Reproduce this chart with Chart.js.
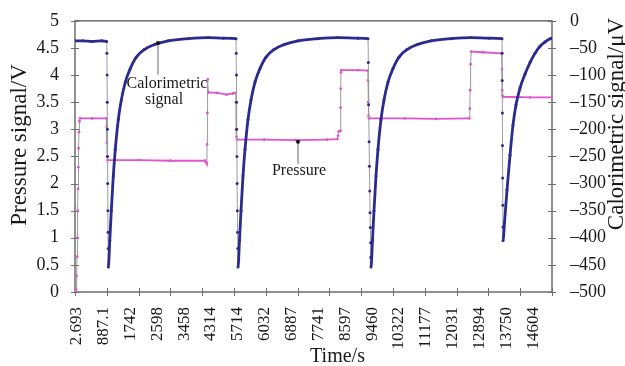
<!DOCTYPE html>
<html>
<head>
<meta charset="utf-8">
<script src="https://cdn.jsdelivr.net/npm/chart.js@4.4.1/dist/chart.umd.min.js"></script>
<style>
  html, body { margin: 0; padding: 0; background: #ffffff; }
  #wrap { width: 625px; height: 366px; }
</style>
</head>
<body>
<div id="wrap"><canvas id="c" width="625" height="366"></canvas></div>
<script>
// ---------- data ----------
const xTickLabels = ['2.693','887.1','1742','2598','3458','4314','5714','6032','6887','7741','8597','9460','10322','11177','12031','12894','13750','14604'];
const leftTickLabels = ['0','0.5','1','1.5','2','2.5','3','3.5','4','4.5','5'];
const rightTickLabels = ['0','\u201350','\u2013100','\u2013150','\u2013200','\u2013250','\u2013300','\u2013350','\u2013400','\u2013450','\u2013500'];

// Calorimetric signal (µV), right axis
const calTime = [-52,200,500,800,962,968,975,980,985,990,995,1000,1005,1009,1013,
  1061,1109,1173,1237,1333,1429,1557,1717,1908,2164,2484,2932,3571,4211,4700,
  5097,5103,5110,5115,5120,5127,5133,5140,5148,5155,5161,
  5209,5257,5321,5385,5481,5577,5705,5865,6056,6312,6632,7080,7719,8359,9000,
  9319,9329,9339,9354,9364,9374,9384,9394,9402,9409,9414,
  9462,9510,9574,9638,9734,9830,9958,10118,10309,10565,10885,11333,11972,12612,13200,
  13604,13608,13612,13616,13620,13625,13630,13634,13636,
  13684,13764,13860,13956,14052,14180,14340,14500,14660,14820,14980,15140,15203];
const calValue = [-37,-37,-38,-37,-38,-60,-100,-150,-200,-250,-300,-350,-390,-420,-454,
  -405,-350,-286,-237,-182,-146,-113,-88,-67,-53,-44,-37,-33,-31,-32,
  -33,-60,-100,-150,-200,-250,-300,-350,-390,-420,-454,
  -405,-350,-286,-237,-182,-146,-113,-88,-67,-53,-44,-37,-33,-31,-32,
  -33,-77,-155,-223,-268,-314,-354,-381,-409,-436,-454,
  -405,-350,-286,-237,-182,-146,-113,-88,-67,-53,-44,-37,-33,-31,-32,
  -33,-60,-110,-170,-230,-290,-340,-380,-405,
  -372,-312,-248,-192,-155,-124,-98,-77,-60,-47,-39,-33,-32];

// Pressure signal (V), left axis
const presTime = [-52,-20,0,12,25,35,44,55,66,76,90,108,500,955,
  962,968,975,990,2000,3000,4100,4150,4165,
  4172,4180,4195,4215,4500,4800,5000,5090,
  5097,5105,5112,5130,6000,7000,8000,8340,
  8360,8380,8435,
  8442,8448,8455,8470,9000,9312,
  9319,9325,9335,9350,10500,11500,12560,
  12575,12585,12600,12620,13000,13590,
  13604,13610,13620,13640,14500,15203];
const presValue = [0.02,0.05,0.3,0.65,1.0,1.5,1.9,2.3,2.65,2.95,3.15,3.2,3.2,3.2,
  3.05,2.75,2.5,2.43,2.43,2.42,2.42,2.39,2.37,
  2.72,3.3,3.92,3.68,3.67,3.64,3.66,3.67,
  3.5,2.99,2.86,2.81,2.81,2.8,2.81,2.82,
  2.88,2.96,2.97,
  3.4,3.75,4.05,4.09,4.09,4.08,
  3.9,3.5,3.25,3.2,3.2,3.19,3.2,
  3.38,3.72,4.2,4.43,4.42,4.4,
  4.11,3.72,3.62,3.6,3.59,3.59];

// ---------- styling ----------
const SERIF = "'Liberation Serif', 'Times New Roman', serif";
const BLUE = '#2c2a8e';
const PINK = '#e055cc';
const GRAY = '#9a9a9a';
const AXIS = '#6e6e6e';
const X_MIN = -52, X_MAX = 15203;

const calData = calTime.map((t, i) => ({ x: t, y: calValue[i] }));
const presData = presTime.map((t, i) => ({ x: t, y: presValue[i] }));

const xFirst = parseFloat(xTickLabels[0]);
const xLast = parseFloat(xTickLabels[xTickLabels.length - 1]);

function steepAny(ctx) {
  const dx = Math.abs(ctx.p1.x - ctx.p0.x), dy = Math.abs(ctx.p1.y - ctx.p0.y);
  return dy > 2 && dy > 4 * dx;
}
function steepDown(ctx) {
  const dx = Math.abs(ctx.p1.x - ctx.p0.x), dy = ctx.p1.y - ctx.p0.y;
  return dy > 2 && dy > 4 * dx;
}

const decor = {
  id: 'decor',
  beforeDatasetsDraw(chart) {
    const { ctx, chartArea: a, scales } = chart;
    ctx.save();
    ctx.strokeStyle = AXIS;
    ctx.lineWidth = 1.5;
    ctx.strokeRect(a.left, a.top, a.right - a.left, a.bottom - a.top);
    ctx.lineWidth = 1;
    ctx.beginPath();
    scales.y.ticks.forEach(t => {
      const py = Math.round(scales.y.getPixelForValue(t.value)) + 0.5;
      ctx.moveTo(a.left - 4, py); ctx.lineTo(a.left + 4, py);
    });
    scales.y2.ticks.forEach(t => {
      const py = Math.round(scales.y2.getPixelForValue(t.value)) + 0.5;
      ctx.moveTo(a.right - 4, py); ctx.lineTo(a.right + 4, py);
    });
    const nx = 15;
    for (let k = 0; k <= nx; k++) {
      const v = X_MIN + k * (X_MAX - X_MIN) / nx;
      const px = Math.round(scales.x.getPixelForValue(v)) + 0.5;
      ctx.moveTo(px, a.bottom - 4); ctx.lineTo(px, a.bottom + 4);
    }
    ctx.stroke();
    ctx.restore();
  },
  afterDatasetsDraw(chart) {
    const { ctx, scales } = chart;
    const x = scales.x, y = scales.y, y2 = scales.y2;
    ctx.save();
    // Calorimetric pointer
    const cx = x.getPixelForValue(2603);
    ctx.strokeStyle = GRAY; ctx.lineWidth = 1.5;
    ctx.beginPath();
    ctx.moveTo(cx, y2.getPixelForValue(-41)); ctx.lineTo(cx, y2.getPixelForValue(-99));
    // Pressure pointer
    const pxp = x.getPixelForValue(7080);
    ctx.moveTo(pxp, y.getPixelForValue(2.77)); ctx.lineTo(pxp, y.getPixelForValue(2.36));
    ctx.stroke();
    ctx.fillStyle = '#111';
    ctx.beginPath(); ctx.arc(cx, y2.getPixelForValue(-41), 2, 0, Math.PI * 2); ctx.fill();
    ctx.beginPath(); ctx.arc(pxp, y.getPixelForValue(2.77), 2, 0, Math.PI * 2); ctx.fill();
    ctx.font = '16px ' + SERIF;
    ctx.fillStyle = '#1a1a1a';
    ctx.textAlign = 'center'; ctx.textBaseline = 'middle';
    ctx.fillText('Calorimetric', cx + 9, y2.getPixelForValue(-117));
    ctx.fillText('signal', cx + 6, y2.getPixelForValue(-146));
    ctx.fillText('Pressure', pxp + 1, y.getPixelForValue(2.23));
    ctx.restore();
  },
  afterDraw(chart) {
    const { ctx, chartArea: a } = chart;
    ctx.save();
    ctx.fillStyle = '#1a1a1a';
    ctx.textAlign = 'center'; ctx.textBaseline = 'middle';
    ctx.font = '20px ' + SERIF;
    ctx.fillText('Time/s', (a.left + a.right) / 2 + 24, 357);
    ctx.font = '23px ' + SERIF;
    ctx.save(); ctx.translate(20, 145); ctx.rotate(-Math.PI / 2);
    ctx.fillText('Pressure signal/V', 0, 0); ctx.restore();
    ctx.save(); ctx.translate(617, 124); ctx.rotate(-Math.PI / 2);
    ctx.fillText('Calorimetric signal/\u03bcV', 0, 0); ctx.restore();
    ctx.restore();
  }
};

Chart.defaults.font.family = SERIF;
Chart.defaults.color = '#1a1a1a';

new Chart(document.getElementById('c'), {
  type: 'line',
  data: {
    datasets: [
      {
        label: 'Calorimetric signal',
        data: calData,
        yAxisID: 'y2',
        borderColor: BLUE,
        backgroundColor: BLUE,
        borderWidth: 2.8,
        pointRadius: 1.5,
        pointBorderWidth: 0,
        pointBackgroundColor: BLUE,
        cubicInterpolationMode: 'monotone',
        segment: {
          borderColor: ctx => steepDown(ctx) ? GRAY : undefined,
          borderWidth: ctx => steepDown(ctx) ? 1 : undefined
        }
      },
      {
        label: 'Pressure',
        data: presData,
        yAxisID: 'y',
        borderColor: PINK,
        backgroundColor: PINK,
        borderWidth: 1.8,
        pointRadius: 1.4,
        pointBorderWidth: 0,
        pointBackgroundColor: PINK,
        tension: 0,
        segment: {
          borderColor: ctx => steepAny(ctx) ? GRAY : undefined,
          borderWidth: ctx => steepAny(ctx) ? 1 : undefined
        }
      }
    ]
  },
  options: {
    responsive: false,
    animation: false,
    layout: { padding: { top: 18, left: 0, right: 0, bottom: 0 } },
    plugins: { legend: { display: false }, tooltip: { enabled: false } },
    scales: {
      x: {
        type: 'linear',
        position: 'bottom',
        min: X_MIN, max: X_MAX,
        grid: { display: false },
        border: { display: false },
        afterBuildTicks(scale) {
          const n = xTickLabels.length;
          scale.ticks = xTickLabels.map((_, i) => ({ value: xFirst + i * (xLast - xFirst) / (n - 1) }));
        },
        ticks: {
          autoSkip: false,
          maxRotation: 90, minRotation: 90,
          padding: 7,
          font: { size: 17, family: SERIF },
          color: '#1a1a1a',
          callback: (v, i) => xTickLabels[i]
        },
        afterFit(scale) { scale.height = 74; }
      },
      y: {
        position: 'left',
        min: 0, max: 5,
        grid: { display: false },
        border: { display: false },
        ticks: {
          stepSize: 0.5,
          padding: 8,
          font: { size: 18, family: SERIF },
          color: '#1a1a1a',
          callback: (v, i) => leftTickLabels[Math.round(v / 0.5)]
        },
        afterFit(scale) { scale.width = 75; }
      },
      y2: {
        position: 'right',
        min: -500, max: 0,
        grid: { display: false },
        border: { display: false },
        ticks: {
          stepSize: 50,
          padding: 10,
          font: { size: 18, family: SERIF },
          color: '#1a1a1a',
          callback: (v, i) => rightTickLabels[Math.round(-v / 50)]
        },
        afterFit(scale) { scale.width = 73; }
      }
    }
  },
  plugins: [decor]
});
</script>
</body>
</html>
